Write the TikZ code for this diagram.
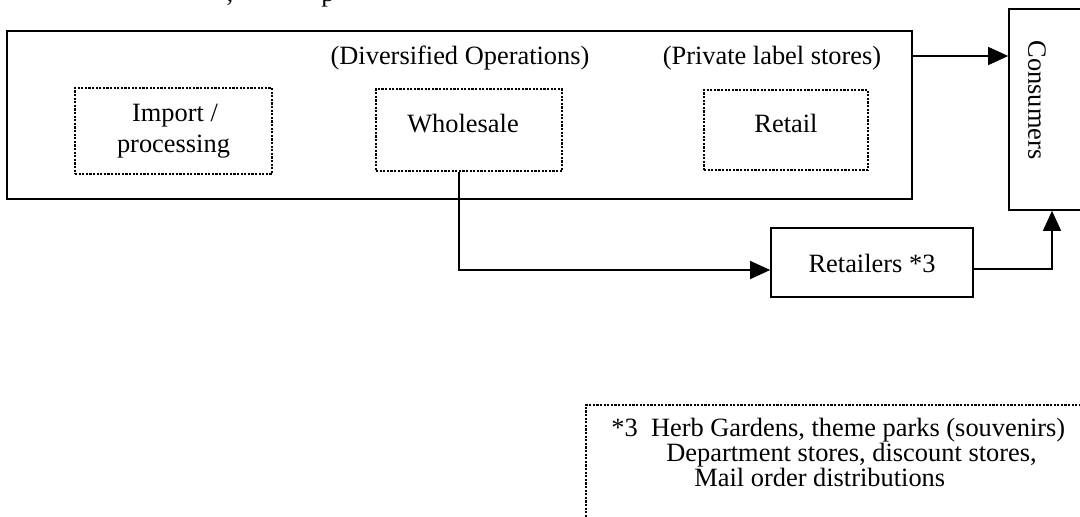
\documentclass[tikz,border=0pt]{standalone}
\usepackage{fontspec}
\setmainfont{Liberation Serif}
\usetikzlibrary{arrows.meta}
\begin{document}
\begin{tikzpicture}[x=0.5pt,y=-0.5pt,
  font=\fontsize{13.2}{15.5}\selectfont,
  solidbox/.style={draw, line width=0.8pt, inner sep=0pt},
  dotbox/.style={draw, line width=0.9pt, dash pattern=on 1.1pt off 0.7pt, inner sep=0pt},
  txt/.style={inner sep=0pt, anchor=base},
  conn/.style={line width=0.65pt},
  arr/.style={conn, -{Triangle[length=10pt,width=9pt]}}]
\useasboundingbox (0,0) rectangle (1080,516);

% cut-off caption fragments at the top edge
\node[txt] (frag1) at (230,1) {,};
\node[txt] (frag2) at (328,1) {p};

% main box and its contents
\node[solidbox, minimum width=452.5pt, minimum height=84pt] (main) at (459.5,115) {};
\node[txt] (div) at (460,64) {(Diversified Operations)};
\node[txt] (pls) at (772,64) {(Private label stores)};

\node[dotbox, minimum width=98.5pt, minimum height=43pt] (imp) at (173.5,131) {};
\node[txt] (impt1) at (175,121) {Import /};
\node[txt] (impt2) at (173.5,152) {processing};

\node[dotbox, minimum width=93pt, minimum height=41pt] (ws) at (469,130) {};
\node[txt] (wst) at (463,132) {Wholesale};

\node[dotbox, minimum width=82pt, minimum height=40pt] (rt) at (786,130) {};
\node[txt] (rtt) at (786,132) {Retail};

% consumers
\node[solidbox, minimum width=43pt, minimum height=100.5pt] (cons) at (1052,109.5) {};
\node[inner sep=0pt, rotate=-90] (const) at (1037,100) {Consumers};

% retailers
\node[solidbox, minimum width=101pt, minimum height=34.5pt] (ret) at (872,262.5) {};
\node[txt] (rett) at (872,272) {Retailers *3};

% footnote
\node[dotbox, minimum width=254.5pt, minimum height=62.5pt] (fn) at (840.5,467.5) {};
\node[txt, anchor=base west] (fn1) at (611,436) {*3\ \ Herb Gardens, theme parks (souvenirs)};
\node[txt, anchor=base west] (fn2) at (666,461) {Department stores, discount stores,};
\node[txt, anchor=base west] (fn3) at (694,486) {Mail order distributions};

% connectors
\coordinate (a1) at (0,56);
\draw[arr] (main.east |- a1) -- (cons.west |- a1);

\coordinate (w1) at (459,0);
\coordinate (w2) at (0,270);
\draw[arr] (ws.south -| w1) |- (ret.west |- w2);

\coordinate (r2) at (0,269);
\coordinate (c1) at (1052,0);
\draw[arr] (ret.east |- r2) -| (cons.south -| c1);
\end{tikzpicture}
\end{document}
